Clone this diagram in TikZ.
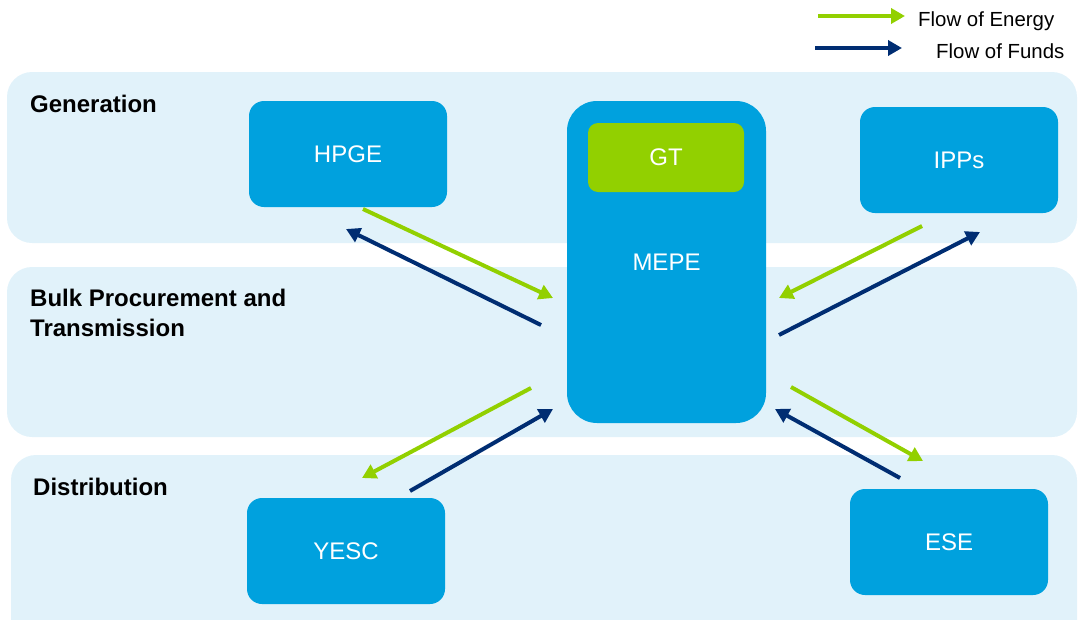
\documentclass[tikz,border=0pt]{standalone}
\usepackage{fontspec}
\setmainfont{Liberation Sans}
\usetikzlibrary{arrows.meta}
\definecolor{bandfill}{RGB}{225,242,250}
\definecolor{boxblue}{RGB}{0,161,222}
\definecolor{limegreen}{RGB}{146,208,0}
\definecolor{energy}{RGB}{146,208,0}
\definecolor{funds}{RGB}{0,45,114}
\begin{document}
\begin{tikzpicture}[x=1pt,y=-1pt,
  band/.style={fill=bandfill,rounded corners=25pt},
  bandlabel/.style={anchor=base west,inner sep=0pt,font=\fontsize{24}{30}\selectfont\bfseries,align=left},
  entity/.style={fill=boxblue,rounded corners=15pt,minimum width=198pt,minimum height=106pt,
    text=white,font=\fontsize{24}{28}\selectfont,inner sep=0pt},
  flowtip/.style={-{Triangle[length=14pt,width=15pt]},line width=4pt},
  energyflow/.style={flowtip,draw=energy},
  fundsflow/.style={flowtip,draw=funds},
  legendtext/.style={anchor=base west,inner sep=0pt,font=\fontsize{20.4}{24}\selectfont}]
\useasboundingbox (0,0) rectangle (1078,619);
\clip (0,0) rectangle (1078,619);

% sector bands
\fill[band] (7,72) rectangle (1077,243);
\fill[band] (7,267) rectangle (1077,437);
\fill[band] (11,455) rectangle (1077,660);

\node[bandlabel] (genlabel) at (30,112) {Generation};
\node[bandlabel] (bulklabel) at (30,336) {Bulk Procurement and\\Transmission};
\node[bandlabel] (distlabel) at (33,495) {Distribution};

% entities
\node[entity] (hpge) at (348,154) {\raisebox{-2pt}{HPGE}};
\node[entity] (ipps) at (959,160) {\raisebox{-2pt}{IPPs}};
\node[entity] (yesc) at (346,551) {\raisebox{-1pt}{YESC}};
\node[entity] (ese) at (949,542) {\raisebox{-2pt}{ESE}};
\node[entity,rounded corners=30pt,minimum width=199pt,minimum height=322pt] (mepe) at (666.5,262) {\raisebox{-1pt}{MEPE}};
\node[fill=limegreen,rounded corners=10pt,minimum width=156pt,minimum height=69pt,
  text=white,font=\fontsize{24}{28}\selectfont,inner sep=0pt] (gt) at (666,157.5) {\raisebox{-1pt}{GT}};

% flow end points
\coordinate (hpgeE) at (363,209);  \coordinate (mepeE1) at (553,298);
\coordinate (mepeF1) at (541,325); \coordinate (hpgeF) at (346,229);
\coordinate (ippsE) at (922,226);  \coordinate (mepeE2) at (779,298);
\coordinate (mepeF2) at (779,335); \coordinate (ippsF) at (980,232);
\coordinate (mepeE3) at (531,388); \coordinate (yescE) at (362,478);
\coordinate (yescF) at (410,491);  \coordinate (mepeF3) at (553,409);
\coordinate (mepeE4) at (791,387); \coordinate (eseE) at (923,461);
\coordinate (eseF) at (900,478);   \coordinate (mepeF4) at (775,409);

% flows of energy and funds
\draw[energyflow] (hpgeE) -- (mepeE1);
\draw[fundsflow] (mepeF1) -- (hpgeF);
\draw[energyflow] (ippsE) -- (mepeE2);
\draw[fundsflow] (mepeF2) -- (ippsF);
\draw[energyflow] (mepeE3) -- (yescE);
\draw[fundsflow] (yescF) -- (mepeF3);
\draw[energyflow] (mepeE4) -- (eseE);
\draw[fundsflow] (eseF) -- (mepeF4);

% legend
\coordinate (legE1) at (818,16); \coordinate (legE2) at (905,16);
\coordinate (legF1) at (815,48); \coordinate (legF2) at (902,48);
\draw[energyflow] (legE1) -- (legE2);
\draw[fundsflow] (legF1) -- (legF2);
\node[legendtext] (legEtext) at (918,26) {Flow of Energy};
\node[legendtext] (legFtext) at (936,58) {Flow of Funds};
\end{tikzpicture}
\end{document}
